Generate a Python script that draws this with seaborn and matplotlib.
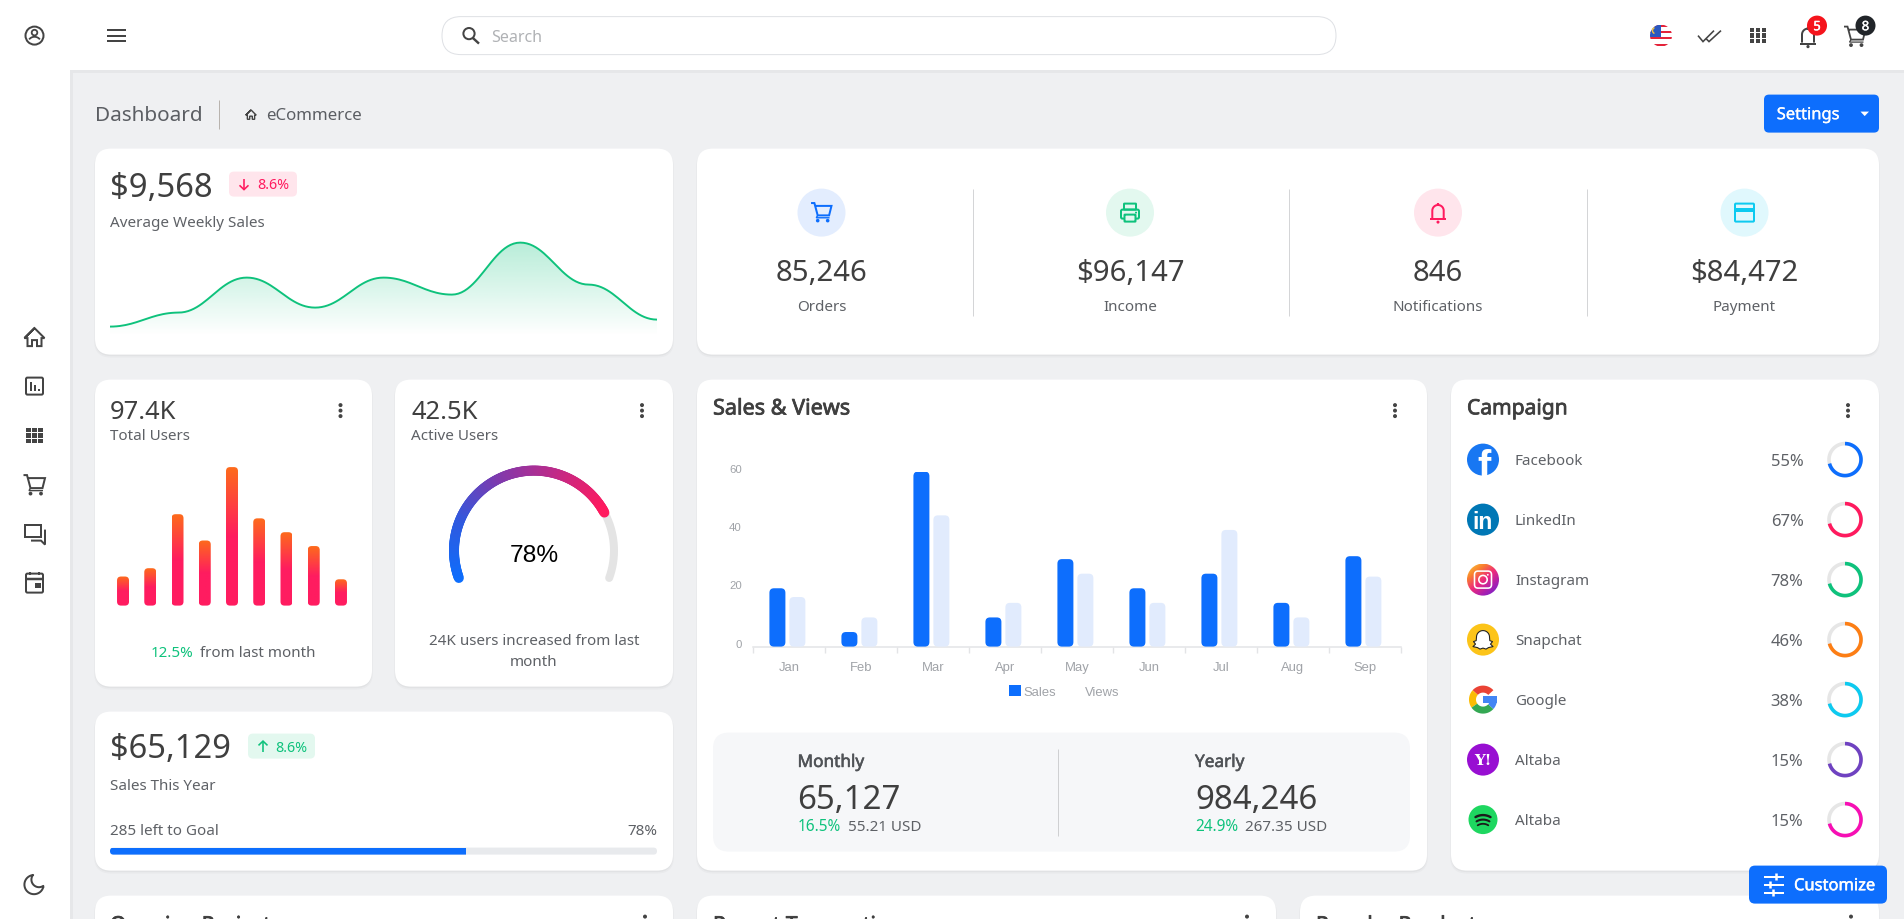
import numpy as np
import pandas as pd
import matplotlib
matplotlib.use("Agg")
import matplotlib.pyplot as plt
import matplotlib.patheffects as pe
import seaborn as sns
from matplotlib.patches import FancyBboxPatch, Circle, Rectangle, Patch, Polygon
from matplotlib.collections import LineCollection
from matplotlib.colors import LinearSegmentedColormap, to_rgb
from matplotlib.transforms import ScaledTranslation

# ---------- data ----------
months = ["Jan", "Feb", "Mar", "Apr", "May", "Jun", "Jul", "Aug", "Sep"]
sales = [20, 5, 60, 10, 30, 20, 25, 15, 31]
views = [17, 10, 45, 15, 25, 15, 40, 10, 24]
yticks_sales = [0, 20, 40, 60]
weekly_sales = [9, 23, 58, 28, 58, 41, 93, 51, 16]
total_users = [21, 27, 66, 47, 100, 63, 53, 43, 19]
gauge_value = 78
goal_progress = 65
stat_values = ["85,246", "$96,147", "846", "$84,472"]
stat_labels = ["Orders", "Income", "Notifications", "Payment"]
campaign_names = ["Facebook", "LinkedIn", "Instagram", "Snapchat", "Google", "Altaba", "Altaba"]
campaign_pct = ["55%", "67%", "78%", "46%", "38%", "15%", "15%"]
campaign_ring = [71, 71, 71, 71, 71, 71, 71]
campaign_colors = ["#0d6efd", "#ff1a5e", "#0ec27c", "#fd7e14", "#0dcaf0", "#6f42c1", "#f70fb4"]

# ---------- style ----------
sns.set_theme(style="white")
plt.rcParams["font.family"] = ["Noto Sans", "DejaVu Sans"]
W, H = 1904, 920
DY = 0.6
BG, BLUE, DARK, MID = "#eff0f2", "#0d6efd", "#3f3f3f", "#5e6166"
GREEN, PINK, CYAN = "#0ec27c", "#ff1a5e", "#0dcaf0"
ICON = "#444444"
LABEL = 15.2

fig = plt.figure(figsize=(W / 100, H / 100), dpi=100, facecolor=BG)
cv = fig.add_axes([0, 0, 1, 1], zorder=0)
cv.set_xlim(0, W)
cv.set_ylim(H - DY, -DY)
cv.axis("off")


def text(x, cy, s, px, color=DARK, ha="left", weight="normal", family=None, semi=0.0):
    """Text whose cap-height centre sits on canvas row cy."""
    kw = {"family": family} if family else {}
    t = cv.text(x, cy - 0.8 + 0.357 * px, s, fontsize=px * 0.72, color=color, ha=ha,
                va="baseline", fontweight=weight, zorder=8, **kw)
    if semi:
        t.set_path_effects([pe.withStroke(linewidth=semi, foreground=color)])
    return t


def rbox(x0, y0, x1, y1, r, fc="white", ec="none", lw=0, z=2, alpha=None):
    p = FancyBboxPatch((x0, y0), x1 - x0, y1 - y0, boxstyle=f"round,pad=0,rounding_size={r}",
                       fc=fc, ec=ec, lw=lw * 0.72, zorder=z, alpha=alpha)
    cv.add_patch(p)
    return p


def card(x0, y0, x1, y1, r=16):
    rbox(x0 - 1, y0 + 1, x1 + 1, y1 + 3, r + 1, fc="#000000", z=1, alpha=0.025)
    rbox(x0, y0 + 1, x1, y1 + 1.5, r, fc="#000000", z=1, alpha=0.03)
    rbox(x0, y0, x1, y1, r)


def stroke(pts, color=ICON, lw=2, closed=False, cap="butt", join="miter", z=5):
    pts = list(pts)
    if closed:
        pts = pts + [pts[0], pts[1]]
    xs, ys = zip(*pts)
    cv.plot(xs, ys, color=color, lw=lw * 0.72, solid_capstyle=cap, solid_joinstyle=join, zorder=z)


def off(cx, cy, pts, s=1.0):
    return [(cx + a * s, cy + b * s) for a, b in pts]


def disc(cx, cy, r, fc, ec="none", lw=0, z=5):
    c = Circle((cx, cy), r, fc=fc, ec=ec, lw=lw * 0.72, zorder=z)
    cv.add_patch(c)
    return c


def arc(cx, cy, r, a0, a1, n=80):
    """Points clockwise from a0 to a1, degrees from 12 o'clock."""
    t = np.radians(np.linspace(a0, a1, n))
    return list(zip(cx + r * np.sin(t), cy - r * np.cos(t)))


def dots(cx, cy):
    for d in (-5.5, 0, 5.5):
        disc(cx, cy + d, 2, "#444444")


def badge_arrow(cx, cy, up, color):
    s = -1 if up else 1
    stroke([(cx, cy - 5.5 * s), (cx, cy + 5.5 * s)], color, 1.6)
    stroke([(cx - 4.5, cy + 1.2 * s), (cx, cy + 5.5 * s), (cx + 4.5, cy + 1.2 * s)], color, 1.6)


# ---------- icons ----------
def icon_home(cx, cy, s=1.0, c=ICON, lw=2):
    stroke(off(cx, cy, [(-10, 1), (0, -9), (10, 1), (7, 1), (7, 9), (2.5, 9), (2.5, 3), (-2.5, 3),
                        (-2.5, 9), (-7, 9), (-7, 1)], s), c, lw, closed=True)


def icon_grid(cx, cy, c=ICON):
    for a in (-6, 0, 6):
        for b in (-5.6, 0, 5.6):
            cv.add_patch(Rectangle((cx + a - 2.4, cy + b - 2.2), 4.8, 4.4, fc=c, ec="none", zorder=5))


def icon_cart(cx, cy, c=ICON, s=1.0, lw=2):
    stroke(off(cx, cy, [(-11, -9), (-7.5, -9), (-4, 4), (8, 4), (10.5, -6), (-6.5, -6)], s), c, lw)
    stroke(off(cx, cy, [(-4, 4), (-5.5, 6.5), (8.5, 6.5)], s), c, lw * 0.7)
    for a in (-4, 6.5):
        disc(cx + a * s, cy + 9.5 * s, 1.9 * s, c)


def icon_bell(cx, cy, c=ICON, s=1.0, lw=2):
    body = arc(cx, cy - 2 * s, 6 * s, -90, 90)
    stroke([(cx - 6 * s, cy + 6 * s)] + body + [(cx + 6 * s, cy + 6 * s)], c, lw)
    stroke([(cx - 8 * s, cy + 7 * s), (cx + 8 * s, cy + 7 * s)], c, lw)
    stroke([(cx, cy - 10 * s), (cx, cy - 7 * s)], c, lw * 1.1)
    disc(cx, cy + 10 * s, 1.6 * s, c)


def icon_printer(cx, cy, c=GREEN):
    rbox(cx - 9, cy - 3, cx + 9, cy + 6, 1.5, fc="none", ec=c, lw=2, z=5)
    rbox(cx - 6, cy - 9, cx + 6, cy - 3, 0.5, fc="none", ec=c, lw=2, z=5)
    rbox(cx - 5.5, cy + 2, cx + 5.5, cy + 9, 0.5, fc="#e3f8ef", ec=c, lw=2, z=5)
    disc(cx + 6, cy, 1, c)


# ---------- page frame ----------
cv.add_patch(Rectangle((70, 70), 3, H, fc="#e6e7e9", ec="none", zorder=0.5))
cv.add_patch(Rectangle((70, 70), W, 3, fc="#e6e7e9", ec="none", zorder=0.5))
cv.add_patch(Rectangle((0, -2), 70, H + 4, fc="white", ec="none", zorder=1))
cv.add_patch(Rectangle((0, -2), W, 72, fc="white", ec="none", zorder=1))
cv.add_patch(Rectangle((0, -2), W, 2.6, fc="#e2e3e5", ec="none", zorder=1.2))

# top bar
cv.add_patch(Circle((34.5, 36), 9, fc="none", ec=ICON, lw=2 * 0.72, zorder=5))
cv.add_patch(Circle((34.5, 33), 2.8, fc="none", ec=ICON, lw=1.8 * 0.72, zorder=5))
stroke(arc(34.5, 44, 6.8, -52, 52), ICON, 1.8)
for yy in (30.5, 36, 41):
    stroke([(107, yy), (126, yy)], ICON, 2)
rbox(442, 17, 1336, 55, 19, fc="white", ec="#dfe1e5", lw=1, z=2)
cv.add_patch(Circle((469, 34), 5.6, fc="none", ec=ICON, lw=2 * 0.72, zorder=5))
stroke([(473, 38.5), (479, 44)], ICON, 2.4)
text(491, 36, "Search", 16, "#b0b2b5")

# flag
flag = disc(1661, 36, 11, "white", z=5)
for i, yy in enumerate(np.arange(25, 47, 3.2)):
    if i % 2 == 0:
        r_ = Rectangle((1649, yy), 24, 1.7 if i else 2.2, fc="#e4233a", ec="none", zorder=5.1)
        cv.add_patch(r_)
        r_.set_clip_path(flag)
r_ = Rectangle((1649, 25), 12, 12, fc="#2a58c0", ec="none", zorder=5.2)
cv.add_patch(r_)
r_.set_clip_path(flag)
stroke(arc(1655.5, 31, 3, 200, 340), "#f6c23c", 1.4, z=5.3)

stroke([(1698, 36), (1703, 42), (1714, 31)], ICON, 1.6)
stroke([(1706, 39), (1709, 42), (1721, 31)], ICON, 1.6)
icon_grid(1758, 36)
icon_bell(1808, 37, ICON, 1.0)
icon_cart(1855, 36, ICON, 1.0, 1.8)
disc(1817, 26, 10, "#f5141c", z=6)
text(1817, 26.8, "5", 13, "white", "center", semi=0.3)
disc(1865.5, 26, 10, "#212529", z=6)
text(1865.5, 26.8, "8", 13, "white", "center", semi=0.3)

# side bar
icon_home(34.5, 337.5)
rbox(26, 378, 43, 395, 1.5, fc="none", ec=ICON, lw=2, z=5)
for a, t in ((-4, 382), (0, 384.5), (4, 389)):
    stroke([(34.5 + a, t + 0.5), (34.5 + a, 391)], ICON, 2)
icon_grid(34.5, 436)
icon_cart(34.5, 484.5)
stroke([(25, 525), (41, 525), (41, 537), (25, 537)], ICON, 2, closed=True)
stroke([(31, 541), (41, 541), (45, 545), (45, 530)], ICON, 2)
rbox(26, 574, 43, 593, 1.5, fc="none", ec=ICON, lw=2, z=5)
stroke([(26, 579), (43, 579)], ICON, 2.5)
stroke([(30, 572), (30, 575)], ICON, 2)
stroke([(39, 572), (39, 575)], ICON, 2)
cv.add_patch(Rectangle((35, 583.5), 5.5, 5, fc=ICON, ec="none", zorder=5))
stroke(arc(34, 885, 9.6, 103, 355) + arc(39, 880, 7.6, 308, 146), ICON, 2, closed=True, join="round")

# title row
text(95, 114, "Dashboard", 20.7, "#5b5e63")
stroke([(219, 100), (219, 129)], "#b8b3ae", 1)
icon_home(251, 115, 0.52, ICON, 1.4)
text(266.5, 114, "eCommerce", 16.9, "#5b5e63")
rbox(1764, 95, 1879, 133, 5, fc=BLUE, z=3)
text(1808, 114.5, "Settings", 16.5, "white", "center", semi=0.2)
cv.add_patch(Polygon([(1860.5, 112), (1869, 112), (1864.7, 116.5)], fc="white", ec="none", zorder=6))

# ---------- card: weekly sales ----------
card(95, 149, 673, 355)
text(110, 185, "$9,568", 32.8)
rbox(229, 172, 297, 197, 5, fc="#ffe5ec", z=3)
badge_arrow(244, 184.5, False, PINK)
text(257, 184.5, "8.6%", 14.3, PINK)
text(110, 222, "Average Weekly Sales", LABEL, MID)


def smooth(values, k=0.4, per=24):
    """Display curve through the data points, flat at every point as in the spline of the page."""
    v = np.asarray(values, float)
    xs, ys = [], []
    t = np.linspace(0, 1, per, endpoint=False)
    b0, b1, b2, b3 = (1 - t) ** 3, 3 * (1 - t) ** 2 * t, 3 * (1 - t) * t ** 2, t ** 3
    for i in range(len(v) - 1):
        xs.append(i * (b0 + b1 + b2 + b3) + k * b1 + (1 - k) * b2 + b3)
        ys.append(v[i] * (b0 + b1) + v[i + 1] * (b2 + b3))
    return np.r_[np.concatenate(xs), len(v) - 1], np.r_[np.concatenate(ys), v[-1]]


def inset(x0, y0, x1, y1):
    ax = fig.add_axes([x0 / W, 1 - (y1 + DY) / H, (x1 - x0) / W, (y1 - y0) / H], zorder=3)
    ax.patch.set_visible(False)
    return ax


ax = inset(110, 236, 657, 336)
cx_, cy_ = smooth(weekly_sales)
sns.lineplot(x=cx_, y=cy_, color=GREEN, lw=1.6 * 0.72 * 1.2, ax=ax, zorder=3)
grad = np.zeros((100, 2, 4))
grad[..., :3] = to_rgb(GREEN)
grad[..., 3] = np.linspace(0.30, 0.0, 100)[:, None]
im = ax.imshow(grad, extent=[0, 8, 0, 95], aspect="auto", origin="upper", zorder=2)
clip = Polygon(np.c_[np.r_[cx_, 8, 0], np.r_[cy_, 0, 0]], transform=ax.transData, fc="none", ec="none")
ax.add_patch(clip)
im.set_clip_path(clip)
ax.set_xlim(0, 8)
ax.set_ylim(0, 100)
ax.axis("off")

# ---------- card: stats ----------
card(697, 149, 1879, 355)
stat_x = [821.5, 1130, 1438, 1744.5]
stat_bg = ["#e3edfe", "#e3f8ef", "#ffe5ec", "#e0f8fd"]
for x, bgc, v, l in zip(stat_x, stat_bg, stat_values, stat_labels):
    disc(x, 213, 24, bgc, z=3)
    text(x, 270.5, v, 29.3, DARK, "center")
    text(x, 306, l, LABEL, MID, "center")
for x in (972.5, 1288.5, 1587):
    stroke([(x, 189), (x, 316)], "#d4d5d7", 1)
icon_cart(821.5, 212, BLUE, 0.95)
icon_printer(1130, 213)
icon_bell(1438, 213, PINK, 0.95)
rbox(1735, 204, 1754, 222, 1, fc="none", ec=CYAN, lw=2, z=5)
cv.add_patch(Rectangle((1735, 208), 19, 4, fc=CYAN, ec="none", zorder=5))

# ---------- card: total users ----------
card(95, 380, 372, 687)
text(110, 410, "97.4K", 25.5)
text(110, 435, "Total Users", LABEL, MID)
dots(340.5, 411)
ax = inset(109.4, 467.5, 354.6, 606)
sns.barplot(x=np.arange(len(total_users)).astype(str), y=total_users, color=PINK, width=0.44,
            linewidth=0, saturation=1, errorbar=None, ax=ax)
ax.set_xlim(-0.5, 8.5)
ax.set_ylim(0, 100)
ramp = LinearSegmentedColormap.from_list("r", ["#fd6a1c", "#ff1c60", "#ff1c60"])
pxx, pxy = 245.2 / 9, 138.5 / 100
for p in list(ax.patches):
    x, y, w, h = p.get_x(), p.get_y(), p.get_width(), p.get_height()
    p.remove()
    b = FancyBboxPatch((x, y), w, h, boxstyle=f"round,pad=0,rounding_size={4 / pxx}",
                       mutation_aspect=pxx / pxy, fc="none", ec="none", transform=ax.transData)
    ax.add_patch(b)
    g = ax.imshow(np.linspace(0, 1, 64)[:, None], extent=[x, x + w, y, y + h], aspect="auto",
                  cmap=ramp, origin="upper", zorder=3)
    g.set_clip_path(b)
ax.set_xlim(-0.5, 8.5)
ax.set_ylim(0, 100)
ax.axis("off")
text(151, 652, "12.5%", LABEL, GREEN)
text(200.5, 652, "from last month", LABEL, MID)

# ---------- card: active users ----------
card(395, 380, 673, 687)
text(411, 410, "42.5K", 25.5)
text(411, 435, "Active Users", LABEL, MID)
dots(642, 411)
gcx, gcy, gr = 534, 551, 80
stroke(arc(gcx, gcy, gr, -110, 110), "#e4e4e4", 8, cap="round", z=3)
end = -110 + 220 * gauge_value / 100
pts = np.array(arc(gcx, gcy, gr, -110, end, 160))
segs = np.stack([pts[:-1], pts[1:]], axis=1)
gm = LinearSegmentedColormap.from_list("g", [BLUE, "#2f5ae0", "#7e3aae", "#c02a88", PINK])
lc = LineCollection(segs, colors=gm(np.linspace(0, 1, len(segs))), linewidths=10 * 0.72,
                    capstyle="round", zorder=4)
cv.add_collection(lc)
text(534, 553.5, "78%", 24.5, "#000000", "center", family="Liberation Sans")
text(534, 640, "24K users increased from last", LABEL, MID, "center")
text(534, 661, "month", LABEL, MID, "center")

# ---------- card: sales this year ----------
card(95, 712, 673, 871)
text(110, 747, "$65,129", 32.6)
rbox(248, 734, 315, 759, 5, fc="#e3f8ef", z=3)
badge_arrow(263, 747, True, GREEN)
text(275, 747, "8.6%", 14.3, GREEN)
text(110, 785, "Sales This Year", LABEL, MID)
text(110, 830, "285 left to Goal", LABEL, MID)
text(657, 830, "78%", LABEL, MID, "right")
rbox(110, 848, 657, 855, 3.5, fc="#e8eaed", z=3)
prog = rbox(110, 848, 657, 855, 3.5, fc="none", z=3)
fill = Rectangle((110, 848), 547 * goal_progress / 100, 7, fc=BLUE, ec="none", zorder=4)
cv.add_patch(fill)
fill.set_clip_path(prog)

# ---------- card: sales & views ----------
card(697, 380, 1427, 871)
text(713, 408, "Sales & Views", 21.6, DARK, semi=0.55)
dots(1395, 411)
ax = inset(753, 472, 1401, 647)
df = pd.DataFrame({"month": months * 2,
                   "value": sales + views,
                   "series": ["Sales"] * len(months) + ["Views"] * len(months)})
sns.barplot(data=df, x="month", y="value", hue="series", palette=[BLUE, "#e1ebfd"], width=0.555,
            gap=0.2, linewidth=0, saturation=1, errorbar=None, legend=False, ax=ax)
ax.set_xlim(-0.5, 8.5)
ax.set_ylim(0, 60)
pxx, pxy = 648 / 9, 175 / 60
for p in list(ax.patches):
    x, y, w, h = p.get_x(), p.get_y(), p.get_width(), p.get_height()
    fc = p.get_facecolor()
    p.remove()
    ax.add_patch(FancyBboxPatch((x - 1.6 / pxx, y), w, h, boxstyle=f"round,pad=0,rounding_size={4.5 / pxx}",
                                mutation_aspect=pxx / pxy, fc=fc, ec="none", zorder=3))
sns.despine(ax=ax, left=True)
ax.spines["bottom"].set_color("#e3e4e6")
ax.spines["bottom"].set_linewidth(1.5 * 0.72)
ax.set_xlabel("")
ax.set_ylabel("")
ax.set_yticks(yticks_sales)
ax.set_xticks(np.arange(-0.5, 9), minor=True)
ax.tick_params(axis="x", which="major", bottom=False, length=0, pad=10.6, labelsize=9.4, labelcolor="#a0a3a8")
ax.tick_params(axis="x", which="minor", bottom=True, length=4, width=1, color="#e3e4e6")
ax.tick_params(axis="y", left=False, length=0, pad=8, labelsize=8.2, labelcolor="#a0a3a8")
for lab in ax.get_xticklabels() + ax.get_yticklabels():
    lab.set_fontfamily("Liberation Sans")
for lab in ax.get_yticklabels():
    lab.set_transform(lab.get_transform() + ScaledTranslation(0, 4 / 100, fig.dpi_scale_trans))
leg = ax.legend(handles=[Patch(fc=BLUE, ec="none", label="Sales"), Patch(fc="none", ec="none", label="Views")],
                loc="center", bbox_to_anchor=(1064 / W, 1 - 692.5 / H), bbox_transform=fig.transFigure,
                ncol=2, frameon=False, handlelength=0.95, handleheight=0.95, handletextpad=0.2,
                columnspacing=1.0, labelcolor="#a0a3a8",
                prop={"family": "Liberation Sans", "size": 9.4})

rbox(713, 733, 1410, 852, 16, fc="#f6f7f9", z=3)
stroke([(1057.5, 749), (1057.5, 836)], "#cfd0d2", 1)
text(797.5, 762, "Monthly", 17.2, "#505357", semi=0.4)
text(797.5, 797, "65,127", 33)
text(797.5, 826, "16.5%", 15.4, GREEN)
text(848, 826, "55.21 USD", LABEL, MID)
text(1195, 762, "Yearly", 17.2, "#505357", semi=0.4)
text(1195, 797, "984,246", 33)
text(1195, 826, "24.9%", 15.4, GREEN)
text(1245, 826, "267.35 USD", LABEL, MID)

# ---------- card: campaign ----------
card(1451, 380, 1879, 871)
text(1467, 408, "Campaign", 21, DARK, semi=0.55)
dots(1848, 411)
rows = [460, 520, 580, 640, 700, 760, 820]
for yy, n, pc, f, c in zip(rows, campaign_names, campaign_pct, campaign_ring, campaign_colors):
    text(1515, yy, n, LABEL, MID)
    text(1803.5, yy, pc, 16.6, MID, "right")
    stroke(arc(1845, yy, 16, 0, 360, 120), "#e6e6e6", 3.6, z=4)
    stroke(arc(1845, yy, 16, 0, 360 * f / 100, 120), c, 3.6, z=5)

ix = 1483
# facebook
fb = disc(ix, rows[0], 16, "#1877f2")
t = text(ix + 1.5, rows[0] + 5, "f", 40, "white", "center", "bold", "Liberation Sans")
t.set_clip_path(fb)
# linkedin
disc(ix, rows[1], 16, "#0077b5")
text(ix, rows[1] + 0.5, "in", 23, "white", "center", "bold", "Liberation Sans")
# instagram
ig_cm = LinearSegmentedColormap.from_list("ig", ["#fbd03a", "#f9802e", "#ee2a7b", "#a81fb0", "#6228d7"])
xx, yy_ = np.meshgrid(np.linspace(0, 1, 64), np.linspace(0, 1, 64))
ig = cv.imshow((xx * 0.45 + yy_ * 0.55), extent=[ix - 16, ix + 16, rows[2] + 16, rows[2] - 16],
               cmap=ig_cm, aspect="auto", origin="upper", zorder=4)
ig_c = Circle((ix, rows[2]), 16, fc="none", ec="none", transform=cv.transData)
cv.add_patch(ig_c)
ig.set_clip_path(ig_c)
cv.set_xlim(0, W)
cv.set_ylim(H - DY, -DY)
rbox(ix - 8.5, rows[2] - 8.5, ix + 8.5, rows[2] + 8.5, 3.5, fc="none", ec="white", lw=1.6, z=5)
cv.add_patch(Circle((ix, rows[2]), 4.2, fc="none", ec="white", lw=1.6 * 0.72, zorder=5))
disc(ix + 4.8, rows[2] - 4.8, 0.9, "white", z=5.1)
# snapchat
yy = rows[3]
disc(ix, yy, 16, "#fcc419")
ghost = arc(ix, yy - 2.5, 6.5, -90, 90) + off(ix, yy, [(6.8, 1), (9.5, 2), (7.5, 4.5), (10, 7), (5.5, 8), (3, 9.5),
                                                     (0, 8.5), (-3, 9.5), (-5.5, 8), (-10, 7), (-7.5, 4.5),
                                                     (-9.5, 2), (-6.8, 1)])
cv.add_patch(Polygon(ghost, closed=True, fc="white", ec="#222222", lw=1.1 * 0.72, zorder=5.2, joinstyle="round"))
# google
yy = rows[4]
for a0, a1, col in ((-48, 48, "#ea4335"), (-125, -48, "#fbbc05"), (-228, -125, "#34a853"), (95, 132, "#4285f4")):
    stroke(arc(ix, yy, 10.5, a0, a1), col, 7, z=5)
cv.add_patch(Rectangle((ix, yy - 3.2), 14, 6.6, fc="#4285f4", ec="none", zorder=5.1))
# yahoo
disc(ix, rows[5], 16, "#980fd2")
text(ix, rows[5], "Y!", 15, "white", "center", "bold", "DejaVu Serif")
# spotify
yy = rows[6]
disc(ix, yy, 14.5, "#1ed760")
for dy, rr, lw_, half in ((-1.5, 15, 2.4, 30), (3, 12.5, 2.1, 31), (7.2, 10, 1.8, 32)):
    stroke(arc(ix, yy + dy + rr - 3, rr, -half, half), "#1b1b1b", lw_, cap="round", z=5.2)

# ---------- bottom row of cards (cut by the fold) ----------
for x0, x1, title, tx, dx in ((95, 673, "Ongoing Projects", 110, 645),
                              (697, 1276, "Recent Transactions", 713, 1247),
                              (1300, 1879, "Popular Products", 1316, 1851)):
    card(x0, 896, x1, 960)
    text(tx, 925, title, 21, DARK, semi=0.55)
    disc(dx, 917, 2, "#444444")

# ---------- customize button ----------
rbox(1749, 866, 1887, 904, 6, fc=BLUE, z=7)
for yy in (877, 885, 893):
    cv.plot([1764, 1784], [yy, yy], color="white", lw=1.44, zorder=8, solid_capstyle="butt")
for xx_, yy in ((1776, 877), (1770, 885), (1773, 893)):
    cv.plot([xx_, xx_], [yy - 3.5, yy + 3.5], color="white", lw=1.8, zorder=8, solid_capstyle="butt")
text(1794, 885.5, "Customize", 16.5, "white", semi=0.35)

fig.savefig("out.png", dpi=100, facecolor=BG)
